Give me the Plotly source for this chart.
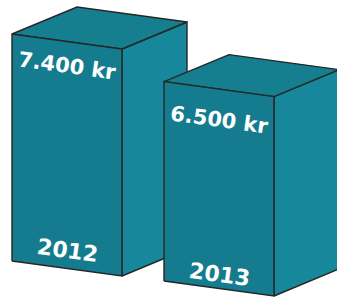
import plotly.graph_objects as go

# ---- data ----
years = ["2012", "2013"]
values = [7400, 6500]
value_labels = ["7.400 kr", "6.500 kr"]

# ---- layout / style constants (pixel-like units, y downward) ----
PX_PER_KR = 227 / 7400
FRONT_W = 110
SKEW = 15           # front face top/bottom edges drop over its width
DEPTH_X, DEPTH_Y = 65, -27
BASES = [(12, 261), (164, 281)]          # front bottom-left corner of each box
LABEL_TOP_OFF = [24, 31]
LABEL_BOT_OFF = [18, 14]
C_FRONT = "#147c8e"
C_RIGHT = "#17889b"
C_TOP = "#157e8f"
C_EDGE = "#262626"
ANGLE = 7.8

fig = go.Figure()
annotations = []

for i, (yr, v, lab) in enumerate(zip(years, values, value_labels)):
    x0, yb = BASES[i]
    h = v * PX_PER_KR
    x1 = x0 + FRONT_W
    front = [(x0, yb), (x1, yb + SKEW), (x1, yb + SKEW - h), (x0, yb - h)]
    right = [(x1, yb + SKEW), (x1 + DEPTH_X, yb + SKEW + DEPTH_Y),
             (x1 + DEPTH_X, yb + SKEW + DEPTH_Y - h), (x1, yb + SKEW - h)]
    top = [(x0, yb - h), (x1, yb + SKEW - h),
           (x1 + DEPTH_X, yb + SKEW + DEPTH_Y - h), (x0 + DEPTH_X, yb + DEPTH_Y - h)]
    for pts, col in ((right, C_RIGHT), (top, C_TOP), (front, C_FRONT)):
        xs = [p[0] for p in pts] + [pts[0][0]]
        ys = [p[1] for p in pts] + [pts[0][1]]
        fig.add_trace(go.Scatter(
            x=xs, y=ys, mode="lines", fill="toself", fillcolor=col,
            line=dict(color=C_EDGE, width=1.4), hoverinfo="skip",
            showlegend=False))
    cx = x0 + FRONT_W / 2
    annotations.append(dict(
        x=cx, y=yb - h + SKEW / 2 + LABEL_TOP_OFF[i], text=f"<b>{lab}</b>",
        showarrow=False, textangle=ANGLE,
        font=dict(family="DejaVu Sans", size=21, color="white")))
    annotations.append(dict(
        x=cx, y=yb + SKEW / 2 - LABEL_BOT_OFF[i], text=f"<b>{yr}</b>",
        showarrow=False, textangle=ANGLE,
        font=dict(family="DejaVu Sans", size=22, color="white")))

fig.update_layout(
    width=337, height=297,
    margin=dict(l=0, r=0, t=0, b=0),
    paper_bgcolor="white", plot_bgcolor="white",
    xaxis=dict(range=[0, 337], visible=False, fixedrange=True),
    yaxis=dict(range=[297, 0], visible=False, fixedrange=True),
    annotations=annotations,
    showlegend=False,
)

fig.write_html("out.html", config={"displayModeBar": False},
               post_script="document.body.style.margin='0';document.body.style.overflow='hidden';")
